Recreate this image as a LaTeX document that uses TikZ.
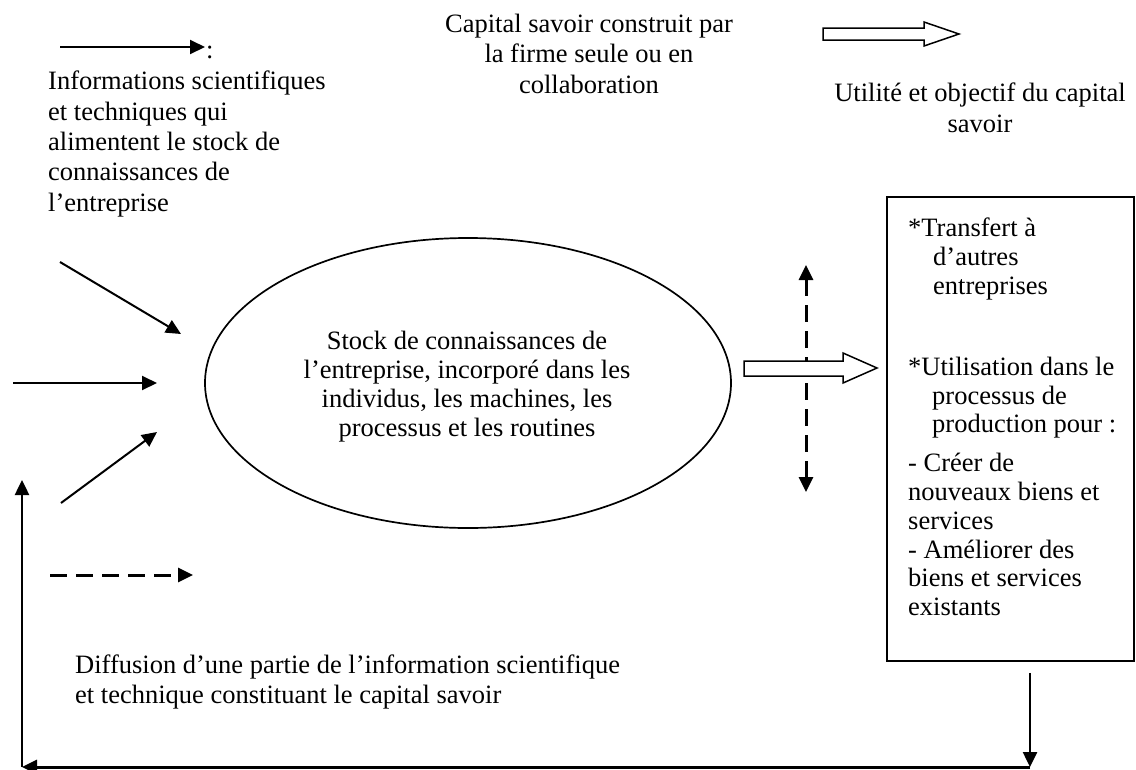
\documentclass[tikz,border=0pt]{standalone}
\usepackage{fontspec}
\setmainfont{Liberation Serif}
\usetikzlibrary{arrows.meta,shapes.geometric}
\begin{document}
\begin{tikzpicture}[x=1pt,y=-1pt,
  txt/.style={font=\fontsize{26.5}{30.3}\selectfont, inner sep=0pt, align=left},
  boxtext/.style={font=\fontsize{26.5}{28.8}\selectfont, inner sep=0pt, align=left},
  difftext/.style={font=\fontsize{26.5}{29.3}\selectfont, inner sep=0pt, align=left},
  elltext/.style={font=\fontsize{26.5}{29}\selectfont, inner sep=0pt, align=center},
  sarrow/.style={line width=2pt, -{Triangle[length=15pt,width=14pt]}},
  darrow/.style={line width=3pt, dash pattern=on 17pt off 9pt, -{Triangle[length=15pt,width=14pt]}},
  ddarrow/.style={line width=3pt, dash pattern=on 17pt off 9pt, {Triangle[length=15pt,width=14pt]}-{Triangle[length=15pt,width=14pt]}},
  hollow/.style={draw, line width=1.5pt, fill=white, line join=miter}]
\useasboundingbox (0,0) rectangle (1136,769);

% legend
\coordinate (l1) at (60,47);
\coordinate (l2) at (205,47);
\draw[sarrow] (l1) -- (l2);
\node[txt, anchor=base west] (colon) at (206,58) {:};
\node[txt, anchor=north west] (info) at (48,71) {Informations scientifiques\\et techniques qui\\alimentent le stock de\\connaissances de\\l’entreprise};

\node[txt, align=center, anchor=north] (capital) at (589,14) {Capital savoir construit par\\la firme seule ou en\\collaboration};
\draw[hollow] (823,28) -- (924,28) -- (924,22) -- (959,34) -- (924,46) -- (924,40) -- (823,40) -- cycle;
\node[txt, align=center, anchor=north] (utilite) at (980,83) {Utilité et objectif du capital\\savoir};

% central ellipse
\node[ellipse, draw, line width=1.7pt, minimum width=526pt, minimum height=290pt, inner sep=0pt] (stock) at (468,383) {};
\node[elltext] (stocktxt) at (467,387) {Stock de connaissances de\\l’entreprise, incorporé dans les\\individus, les machines, les\\processus et les routines};

% incoming arrows
\coordinate (a1s) at (60,262);  \coordinate (a1e) at (181,334);
\coordinate (a2s) at (13,383);  \coordinate (a2e) at (157,383);
\coordinate (a3s) at (61,503);  \coordinate (a3e) at (157,432);
\draw[sarrow] (a1s) -- (a1e);
\draw[sarrow] (a2s) -- (a2e);
\draw[sarrow] (a3s) -- (a3e);
\coordinate (d1s) at (50,575);  \coordinate (d1e) at (193,575);
\draw[darrow] (d1s) -- (d1e);

% right box
\node[draw, line width=1.5pt, minimum width=247pt, minimum height=464pt, inner sep=0pt] (box) at (1010.5,429) {};
\node[boxtext, anchor=north west] (boxtxt) at (908,218) {*Transfert à\\\hspace*{25pt}d’autres\\\hspace*{25pt}entreprises\\[52pt]*Utilisation dans le\\\hspace*{24pt}processus de\\\hspace*{24pt}production pour :\\[10pt]- Créer de\\nouveaux biens et\\services\\- Améliorer des\\biens et services\\existants};

% vertical dashed double arrow and hollow arrow
\coordinate (vtop) at (806,265);
\coordinate (vbot) at (806,492);
\draw[ddarrow] (vbot) -- (vtop);
\draw[hollow] (744,361) -- (843,361) -- (843,353) -- (877,368) -- (843,383) -- (843,376) -- (744,376) -- cycle;

% bottom text
\node[difftext, anchor=north west] (diff) at (75,655) {Diffusion d’une partie de l’information scientifique\\et technique constituant le capital savoir};

% feedback loop
\coordinate (fbright) at (1030,767);
\coordinate (corner) at (22,767);
\coordinate (fbtop) at (22,480);
\draw[sarrow, line width=2.5pt] ([xshift=19.5pt,yshift=-11pt]box.south) -- (fbright);
\draw[line width=3pt, -{Triangle[length=15pt,width=14pt]}] (fbright) -- (corner);
\draw[sarrow, line width=2.5pt] (corner) -- (fbtop);
\end{tikzpicture}
\end{document}
